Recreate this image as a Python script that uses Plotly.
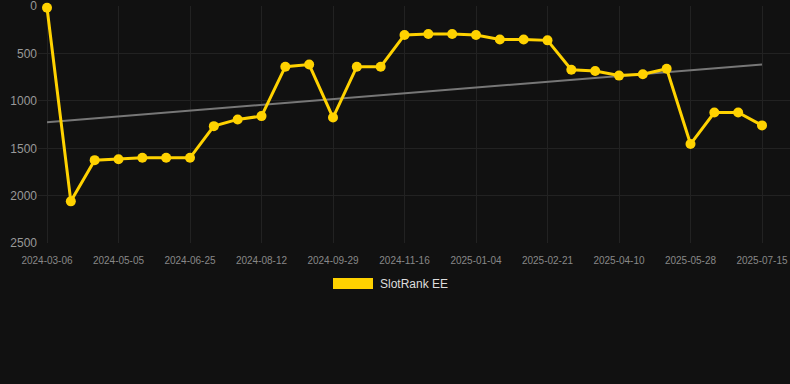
import plotly.graph_objects as go

dates = [
    "2024-03-06", "2024-03-26", "2024-04-15", "2024-05-05", "2024-05-22", "2024-06-08",
    "2024-06-25", "2024-07-11", "2024-07-27", "2024-08-12", "2024-08-28", "2024-09-13",
    "2024-09-29", "2024-10-15", "2024-10-31", "2024-11-16", "2024-12-02", "2024-12-18",
    "2025-01-04", "2025-01-20", "2025-02-05", "2025-02-21", "2025-03-09", "2025-03-25",
    "2025-04-10", "2025-04-26", "2025-05-12", "2025-05-28", "2025-06-13", "2025-06-29",
    "2025-07-15",
]
rank = [
    15, 2060, 1625, 1615, 1600, 1600,
    1600, 1266, 1195, 1160, 638, 615,
    1175, 638, 638, 303, 292, 292,
    303, 350, 350, 360, 670, 683,
    732, 718, 660, 1455, 1122, 1122,
    1258,
]
trend_x = [dates[0], dates[-1]]
trend_y = [1224, 615]
tick_labels = dates[::3]
y_ticks = [0, 500, 1000, 1500, 2000, 2500]
series_name = "SlotRank EE"

gold = "#FFD200"
bg = "#111111"
grid = "#222222"

fig = go.Figure()
fig.add_trace(go.Scatter(
    x=trend_x, y=trend_y, mode="lines",
    line=dict(color="#777777", width=2),
    showlegend=False, hoverinfo="skip",
))
fig.add_trace(go.Scatter(
    x=dates, y=rank, mode="lines+markers", name=series_name,
    line=dict(color=gold, width=3),
    marker=dict(color=gold, size=10),
    showlegend=False, cliponaxis=False,
))

n = len(dates)
step = (762 - 47) / (n - 1)
fig.update_layout(
    width=790, height=384,
    paper_bgcolor=bg, plot_bgcolor=bg,
    margin=dict(l=38, r=0, t=6, b=141),
    font=dict(family="Liberation Sans, Arial, sans-serif", color="#888888"),
    xaxis=dict(
        type="category", categoryorder="array", categoryarray=dates,
        range=[-9 / step, (n - 1) + 28 / step],
        tickmode="array", tickvals=tick_labels, ticktext=tick_labels,
        tickfont=dict(size=10, color="#888888"),
        ticks="outside", ticklen=8, tickcolor=bg,
        showgrid=True, gridcolor=grid, gridwidth=1,
        zeroline=False, showline=False,
    ),
    yaxis=dict(
        range=[2500, -3], tickmode="array", tickvals=y_ticks,
        ticktext=[str(v) for v in y_ticks],
        tickfont=dict(size=12, color="#999999"),
        ticklabeloverflow="allow",
        showgrid=True, gridcolor=grid, gridwidth=1,
        zeroline=False, showline=False, ticks="",
    ),
    shapes=[dict(
        type="rect", xref="paper", yref="paper",
        x0=(333 - 38) / 752, x1=(373 - 38) / 752,
        y0=(384 - 141 - 289) / 237, y1=(384 - 141 - 278) / 237,
        fillcolor=gold, line=dict(width=0),
    )],
    annotations=[dict(
        text=series_name, xref="paper", yref="paper",
        x=(378 - 38) / 752, y=(384 - 141 - 283.5) / 237,
        xanchor="left", yanchor="middle", showarrow=False,
        font=dict(size=12, color="#dddddd"),
    )],
)

fig.write_html(
    "out.html",
    config={"displayModeBar": False},
    post_script="document.body.style.margin='0';document.body.style.background='#111111';",
)
